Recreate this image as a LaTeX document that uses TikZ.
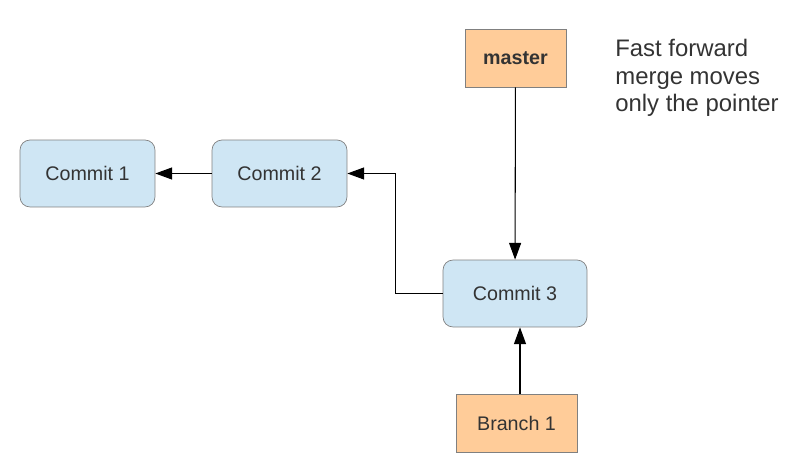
\documentclass[tikz,border=0pt]{standalone}
\usepackage{fontspec}
\setmainfont{Liberation Sans}
\usepackage{xcolor}
\usetikzlibrary{arrows.meta}

\definecolor{commitblue}{HTML}{CFE6F4}
\definecolor{branchorange}{HTML}{FFCC99}
\definecolor{boxline}{HTML}{808080}
\definecolor{textgray}{HTML}{333333}

\begin{document}
\begin{tikzpicture}[x=0.02cm, y=-0.02cm,
    commit/.style={rectangle, rounded corners=0.2cm, draw=boxline, fill=commitblue,
        text=textgray, font=\fontsize{11.2}{13}\selectfont, minimum height=1.34cm},
    pointer/.style={rectangle, draw=boxline, fill=branchorange,
        text=textgray, font=\fontsize{11.2}{13}\selectfont, minimum height=1.16cm},
    link/.style={line width=0.6pt, -{Triangle[length=9.5pt, width=6.8pt]}}]
    \useasboundingbox (0, 0) rectangle (797, 462);

    \node (c1) at (87.5, 173.5) [commit, minimum width=2.7cm] {Commit 1};
    \node (c2) at (279.5, 173.5) [commit, minimum width=2.7cm] {Commit 2};
    \node (c3) at (515, 293.5) [commit, minimum width=2.88cm] {Commit 3};

    \node (m) at (515.5, 58) [pointer, minimum width=2.02cm, font=\fontsize{11.2}{13}\selectfont\bfseries] {master};
    \node (b1) at (516.5, 423) [pointer, minimum width=2.42cm] {Branch 1};

    \node (note) at (615, 39) [anchor=north west, inner sep=0, align=left, text=textgray,
        font=\fontsize{13.6}{15.7}\selectfont] {Fast forward\\merge moves\\only the pointer};

    \draw [link] (c2) -- (c1);
    \draw [link] (c3.west) -- ++(-47, 0) |- (c2.east);
    \draw [link] (m) -- (c3);
    \draw [link] ([xshift=0.07cm]b1.north) -- ([xshift=0.07cm]b1.north |- c3.south);
\end{tikzpicture}
\end{document}
